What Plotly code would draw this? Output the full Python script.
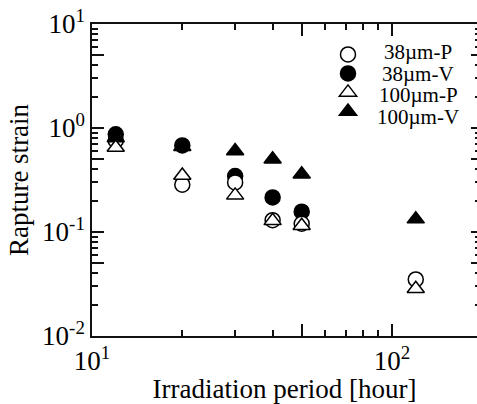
import plotly.graph_objects as go

# Irradiation period [hour] and rupture strain for each specimen series
series_names = ["38\u00b5m-P", "38\u00b5m-V", "100\u00b5m-P", "100\u00b5m-V"]
hours = [12, 20, 30, 40, 50, 120]
strain_38P = [0.76, 0.285, 0.30, 0.13, 0.12, 0.035]
strain_38V = [0.87, 0.68, 0.345, 0.215, 0.157, None]
strain_100P = [0.65, 0.35, 0.225, 0.128, 0.115, 0.0285]
strain_100V = [0.80, 0.66, 0.60, 0.50, 0.36, 0.133]

x_decades = [10, 100]
x_ticktext = ["10<sup>1</sup>", "10<sup>2</sup>"]
x_half = [50]
x_minor = [20, 30, 40, 60, 70, 80, 90]
y_decades = [0.01, 0.1, 1, 10]
y_ticktext = ["10<sup>-2</sup>", "10<sup>-1</sup>", "10<sup>0</sup>", "10<sup>1</sup>"]
y_half = [0.05, 0.5, 5]
y_minor = [0.02, 0.03, 0.04, 0.06, 0.07, 0.08, 0.09,
           0.2, 0.3, 0.4, 0.6, 0.7, 0.8, 0.9,
           2, 3, 4, 6, 7, 8, 9]

SERIF = "Liberation Serif, Times New Roman, serif"
INK = "#111"
X_RANGE = [1, 2.2833]
Y_RANGE = [-2, 1]

# (name, values, symbol, fill, legend rank); drawing order keeps open markers on top
styles = [
    (series_names[1], strain_38V, "circle", "black", 2),
    (series_names[0], strain_38P, "circle", "white", 1),
    (series_names[3], strain_100V, "triangle-up", "black", 4),
    (series_names[2], strain_100P, "triangle-up", "white", 3),
]

fig = go.Figure()
for name, vals, sym, fill, rank in styles:
    fig.add_trace(go.Scatter(
        x=hours, y=vals, mode="markers", name="",
        legendrank=rank, legendgroup=name, hovertext=name,
        marker=dict(symbol=sym, size=15,
                    color=fill, line=dict(color="black", width=1.5)),
    ))

# transparent copies of one series so the tick-only axes get drawn
for xa, ya in [("x2", "y"), ("x", "y2"), ("x", "y3")]:
    fig.add_trace(go.Scatter(
        x=hours, y=strain_100V, xaxis=xa, yaxis=ya, mode="markers",
        marker=dict(opacity=0), showlegend=False, hoverinfo="skip",
    ))

tick_font = dict(family=SERIF, size=27, color="black")
title_font = dict(family=SERIF, size=27, color="black")


def minor_ticks(vals, length):
    return dict(tickmode="array", tickvals=vals, ticklen=length,
                tickwidth=1.5, tickcolor=INK, ticks="inside")


def plain_overlay(vals, length, **kw):
    # tick-only axis with no line or labels
    return dict(type="log", showgrid=False, zeroline=False, showline=False,
                showticklabels=False, ticks="inside", ticklen=length,
                tickwidth=1.5, tickcolor=INK, tickmode="array",
                tickvals=vals, **kw)


fig.update_layout(
    width=477, height=404,
    margin=dict(l=92, r=0, t=24, b=68),
    paper_bgcolor="white", plot_bgcolor="white",
    xaxis=dict(
        type="log", range=X_RANGE, showgrid=False, zeroline=False,
        showline=True, linecolor=INK, linewidth=1.5, mirror="ticks",
        ticks="inside", ticklen=12, tickwidth=1.5, tickcolor=INK,
        tickmode="array", tickvals=x_decades, ticktext=x_ticktext,
        tickfont=tick_font, minor=minor_ticks(x_minor, 6),
        title=dict(text="Irradiation period [hour]", font=title_font, standoff=4),
    ),
    # long ticks at 50 h, bottom and top
    xaxis2=plain_overlay(x_half, 12, range=X_RANGE, overlaying="x",
                         anchor="y", side="bottom", mirror="ticks"),
    yaxis=dict(
        type="log", range=Y_RANGE, showgrid=False, zeroline=False,
        showline=True, linecolor=INK, linewidth=1.5,
        ticks="inside", ticklen=12, tickwidth=1.5, tickcolor=INK,
        tickmode="array", tickvals=y_decades, ticktext=y_ticktext,
        tickfont=tick_font, minor=minor_ticks(y_minor, 6),
        title=dict(text="Rapture strain", font=title_font, standoff=6),
    ),
    # right-hand ticks
    yaxis2=plain_overlay(y_decades + y_half, 6, range=Y_RANGE, overlaying="y",
                         anchor="x", side="right",
                         minor=minor_ticks(y_minor, 2)),
    # long ticks at the half-decade marks on the left
    yaxis3=plain_overlay(y_half, 12, range=Y_RANGE, overlaying="y",
                         anchor="x", side="left"),
    legend=dict(
        x=0.587, y=0.949, xanchor="left", yanchor="top",
        font=dict(size=1, color="rgba(0,0,0,0)"),
        itemwidth=50, tracegroupgap=4, traceorder="normal",
        bgcolor="rgba(0,0,0,0)", borderwidth=0,
    ),
    showlegend=True,
)

# legend labels, centred beside the legend symbols
label_rows = [0.9103, 0.8413, 0.7724, 0.7035]
for name, yrow in zip(series_names, label_rows):
    fig.add_annotation(
        text=name, x=0.847, y=yrow, xref="paper", yref="paper",
        xanchor="center", yanchor="middle", showarrow=False,
        font=dict(family=SERIF, size=21, color="black"),
    )

fig.write_html("out.html")
